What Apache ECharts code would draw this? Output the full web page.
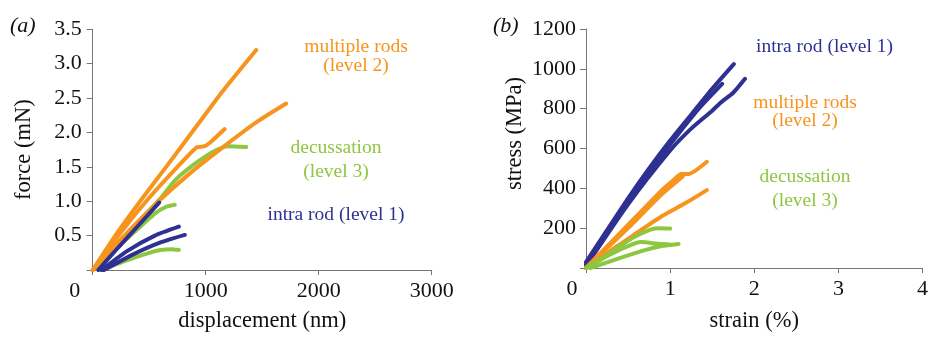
<!DOCTYPE html>
<html>
<head>
<meta charset="utf-8">
<script src="https://cdn.jsdelivr.net/npm/echarts@6/dist/echarts.min.js"></script>
<style>
  html, body { margin: 0; padding: 0; background: #fff; }
  #main { width: 931px; height: 338px; }
</style>
</head>
<body>
<div id="main"></div>
<script>
// panel (a): force (mN) vs displacement (nm)
const aOrange1 = [[0, 0], [200, 0.5], [420, 1.0], [650, 1.5], [900, 2.05], [1150, 2.6], [1447, 3.2]];
const aOrange2 = [[0, 0], [250, 0.55], [500, 1.05], [750, 1.5], [918, 1.78], [990, 1.8], [1050, 1.87], [1168, 2.05]];
const aOrange3 = [[0, 0], [280, 0.5], [570, 0.98], [870, 1.42], [1180, 1.82], [1450, 2.15], [1712, 2.42]];
const aGreen1 = [[50, 0], [300, 0.5], [594, 1.03], [700, 1.25], [771, 1.37], [918, 1.56], [1065, 1.72], [1197, 1.8], [1359, 1.79]];
const aGreen2 = [[0, 0], [300, 0.45], [550, 0.82], [650, 0.92], [726, 0.95]];
const aGreen3 = [[80, 0], [300, 0.14], [500, 0.25], [600, 0.29], [700, 0.3], [762, 0.29]];
const aBlue1 = [[50, 0], [200, 0.28], [400, 0.64], [588, 0.98]];
const aBlue2 = [[80, 0], [300, 0.27], [550, 0.5], [762, 0.63]];
const aBlue3 = [[100, 0], [350, 0.22], [600, 0.4], [815, 0.51]];

// panel (b): stress (MPa) vs strain (%)
const bBlue1 = [[0, 30], [0.25, 190], [0.5, 350], [0.75, 500], [1.0, 640], [1.25, 770], [1.5, 900], [1.757, 1024]];
const bBlue2 = [[0, 20], [0.5, 335], [1.0, 620], [1.3, 780], [1.45, 850], [1.618, 925]];
const bBlue3 = [[0, 10], [0.5, 320], [1.0, 590], [1.25, 700], [1.5, 790], [1.6, 830], [1.75, 880], [1.89, 950]];
const bOrange1 = [[0, 0], [0.3, 130], [0.6, 260], [0.9, 390], [1.05, 445], [1.13, 472], [1.22, 472], [1.436, 533]];
const bOrange2 = [[0, 0], [0.3, 90], [0.6, 175], [0.9, 260], [1.2, 330], [1.436, 391]];
const bOrange3 = [[0, 0], [0.5, 200], [0.9, 370], [1.15, 460]];
const bGreen1 = [[0, 0], [0.3, 80], [0.55, 150], [0.75, 190], [0.85, 200], [1.0, 198]];
const bGreen2 = [[0.05, 0], [0.4, 50], [0.7, 90], [0.9, 110], [1.1, 120]];
const bGreen3 = [[0, 0], [0.3, 70], [0.5, 110], [0.65, 130], [0.85, 122], [1.0, 118]];

const ORANGE = '#f7941d';
const BLUE = '#2e3192';
const GREEN = '#8dc63f';
const FONT = 'Liberation Serif';

const chart = echarts.init(document.getElementById('main'));

//一条曲线
const line = (data, color, idx) => ({
    type: 'line',
    data: data,
    xAxisIndex: idx,
    yAxisIndex: idx,
    showSymbol: false,
    smooth: 0.2,
    lineStyle: { color: color, width: 4, cap: 'round', join: 'round' },
    silent: true,
    animation: false
});

const axisBase = {
    axisLine: { lineStyle: { color: '#777', width: 1 } },
    axisTick: { inside: false, length: 5, lineStyle: { color: '#777' } },
    splitLine: { show: false },
    axisLabel: { color: '#111', fontFamily: FONT, fontSize: 22 },
    nameTextStyle: { color: '#111', fontFamily: FONT, fontSize: 22.5 },
    nameLocation: 'middle'
};

const zeroShift = (v) => v === 0 ? '{z|0}' : String(v);

const label = (text, x, y, color) => ({
    type: 'text',
    x: x, y: y,
    style: { text: text, fill: color, font: '19.5px "Liberation Serif"', align: 'center', verticalAlign: 'middle' }
});

const option = {
    animation: false,
    grid: [
        { left: 92.7, top: 29.3, width: 339, height: 243 },
        { left: 586, top: 29, width: 340.7, height: 244.3 }
    ],
    xAxis: [
        Object.assign({}, axisBase, {
            gridIndex: 0, type: 'value', min: 0, max: 3000, interval: 1000,
            name: 'displacement (nm)', nameGap: 40,
            axisLabel: Object.assign({}, axisBase.axisLabel, { margin: 10, formatter: zeroShift,
                rich: { z: { fontFamily: FONT, fontSize: 22, color: '#111', padding: [0, 36, 0, 0] } } })
        }),
        Object.assign({}, axisBase, {
            gridIndex: 1, type: 'value', min: 0, max: 4, interval: 1,
            name: 'strain (%)', nameGap: 42,
            axisLabel: Object.assign({}, axisBase.axisLabel, { margin: 10, formatter: zeroShift,
                rich: { z: { fontFamily: FONT, fontSize: 22, color: '#111', padding: [0, 28, 0, 0] } } })
        })
    ],
    yAxis: [
        Object.assign({}, axisBase, {
            gridIndex: 0, type: 'value', min: 0, max: 3.5, interval: 0.5,
            name: 'force (mN)', nameGap: 57,
            axisTick: { length: 6, lineStyle: { color: '#777' } },
            axisLabel: Object.assign({}, axisBase.axisLabel, { margin: 11,
                formatter: (v) => v === 0 ? '' : v.toFixed(1) })
        }),
        Object.assign({}, axisBase, {
            gridIndex: 1, type: 'value', min: 0, max: 1200, interval: 200,
            name: 'stress (MPa)', nameGap: 59,
            nameTextStyle: Object.assign({}, axisBase.nameTextStyle, { padding: [0, 0, 0, 30] }),
            axisTick: { length: 6, lineStyle: { color: '#777' } },
            axisLabel: Object.assign({}, axisBase.axisLabel, { margin: 10,
                formatter: (v) => v === 0 ? '' : String(v) })
        })
    ],
    graphic: [
        { type: 'text', x: 10, y: 26, style: { text: '(a)', fill: '#111', font: 'italic 22px "Liberation Serif"', verticalAlign: 'middle' } },
        { type: 'text', x: 493, y: 26, style: { text: '(b)', fill: '#111', font: 'italic 22px "Liberation Serif"', verticalAlign: 'middle' } },
        label('multiple rods', 356, 47, ORANGE),
        label('(level 2)', 356, 66, ORANGE),
        label('decussation', 336, 148, GREEN),
        label('(level 3)', 336, 172, GREEN),
        label('intra rod (level 1)', 336, 215, BLUE),
        label('intra rod (level 1)', 824.5, 47, BLUE),
        label('multiple rods', 805, 103, ORANGE),
        label('(level 2)', 805, 121, ORANGE),
        label('decussation', 805, 177, GREEN),
        label('(level 3)', 805, 201, GREEN)
    ],
    series: [
        line(aGreen1, GREEN, 0), line(aGreen2, GREEN, 0), line(aGreen3, GREEN, 0),
        line(aBlue2, BLUE, 0), line(aBlue3, BLUE, 0),
        line(aOrange1, ORANGE, 0), line(aOrange2, ORANGE, 0), line(aOrange3, ORANGE, 0),
        line(aBlue1, BLUE, 0),
        line(bBlue1, BLUE, 1), line(bBlue2, BLUE, 1), line(bBlue3, BLUE, 1),
        line(bOrange1, ORANGE, 1), line(bOrange2, ORANGE, 1), line(bOrange3, ORANGE, 1),
        line(bGreen1, GREEN, 1), line(bGreen2, GREEN, 1), line(bGreen3, GREEN, 1)
    ]
};

chart.setOption(option);
</script>
</body>
</html>
